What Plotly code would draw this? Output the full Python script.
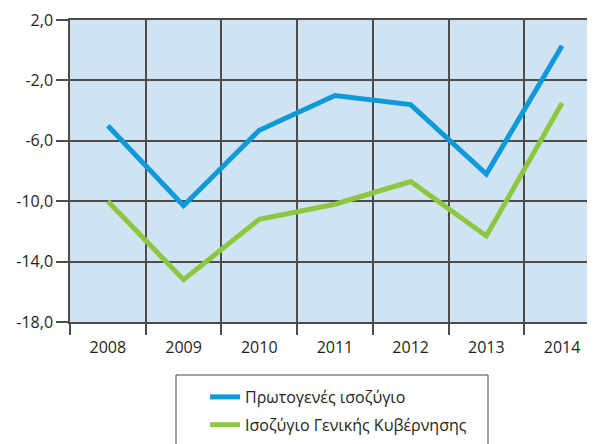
import plotly.graph_objects as go

years = [2008, 2009, 2010, 2011, 2012, 2013, 2014]
primary_balance = [-5.0, -10.3, -5.3, -3.0, -3.6, -8.2, 0.3]
general_gov_balance = [-10.0, -15.2, -11.2, -10.2, -8.7, -12.3, -3.5]
series_names = ["Πρωτογενές ισοζύγιο", "Ισοζύγιο Γενικής Κυβέρνησης"]
y_tick_values = [2, -2, -6, -10, -14, -18]
y_tick_labels = ["2,0", "-2,0", "-6,0", "-10,0", "-14,0", "-18,0"]

BLUE = "#0e9ad9"
GREEN = "#8dc63f"
GRID = "#4d4d4d"
TEXT = "#231f20"
FONT = "Open Sans"

fig = go.Figure()
fig.add_trace(go.Scatter(x=years, y=primary_balance, mode="lines", name=series_names[0],
                         line=dict(color=BLUE, width=5), legendgroup="a"))
fig.add_trace(go.Scatter(x=years, y=general_gov_balance, mode="lines", name=series_names[1],
                         line=dict(color=GREEN, width=5), legendgroup="b"))

boundaries = [y - 0.5 for y in years]

# page body has an 8px default margin; compensate so the plot sits where the reference has it
fig.update_layout(
    width=587, height=436,
    margin=dict(l=62, r=0, t=12, b=122, autoexpand=False),
    paper_bgcolor="white",
    plot_bgcolor="#cfe3f3",
    font=dict(family=FONT, size=16, color=TEXT),
    showlegend=True,
    legend=dict(
        x=(205 - 70) / 525, xanchor="left",
        y=-(380 - 322) / 302, yanchor="top",
        bgcolor="rgba(0,0,0,0)",
        borderwidth=0,
        font=dict(family=FONT, size=16, color=TEXT),
        tracegroupgap=4,
        itemwidth=30,
    ),
    xaxis=dict(
        type="linear",
        automargin=False,
        range=[years[0] - 0.5, years[-1] + 0.435],
        tickvals=years,
        ticktext=[str(y) for y in years],
        ticks="outside", ticklen=10, tickcolor="rgba(0,0,0,0)",
        showgrid=False, zeroline=False,
        showline=True, linecolor=GRID, linewidth=1.5, mirror=True,
        tickfont=dict(family=FONT, size=16, color=TEXT),
        minor=dict(tickvals=boundaries, ticks="outside", ticklen=11, tickcolor=GRID,
                   tickwidth=1.5, showgrid=True, gridcolor=GRID, gridwidth=1.5),
        fixedrange=True,
    ),
    yaxis=dict(
        automargin=False,
        range=[-18, 2],
        tickvals=y_tick_values,
        ticktext=y_tick_labels,
        ticks="outside", ticklen=12, tickcolor=GRID, tickwidth=1.5,
        showgrid=True, gridcolor=GRID, gridwidth=1.5,
        zeroline=False,
        showline=True, linecolor=GRID, linewidth=1.5,
        tickfont=dict(family=FONT, size=16, color=TEXT),
        fixedrange=True,
    ),
    shapes=[dict(type="rect", xref="paper", yref="paper",
                 x0=(176 - 70) / 525, x1=(488 - 70) / 525,
                 y0=-(450 - 322) / 302, y1=-(375 - 322) / 302,
                 line=dict(color="#444444", width=1), fillcolor="rgba(0,0,0,0)")],
)

fig.write_html("out.html")
